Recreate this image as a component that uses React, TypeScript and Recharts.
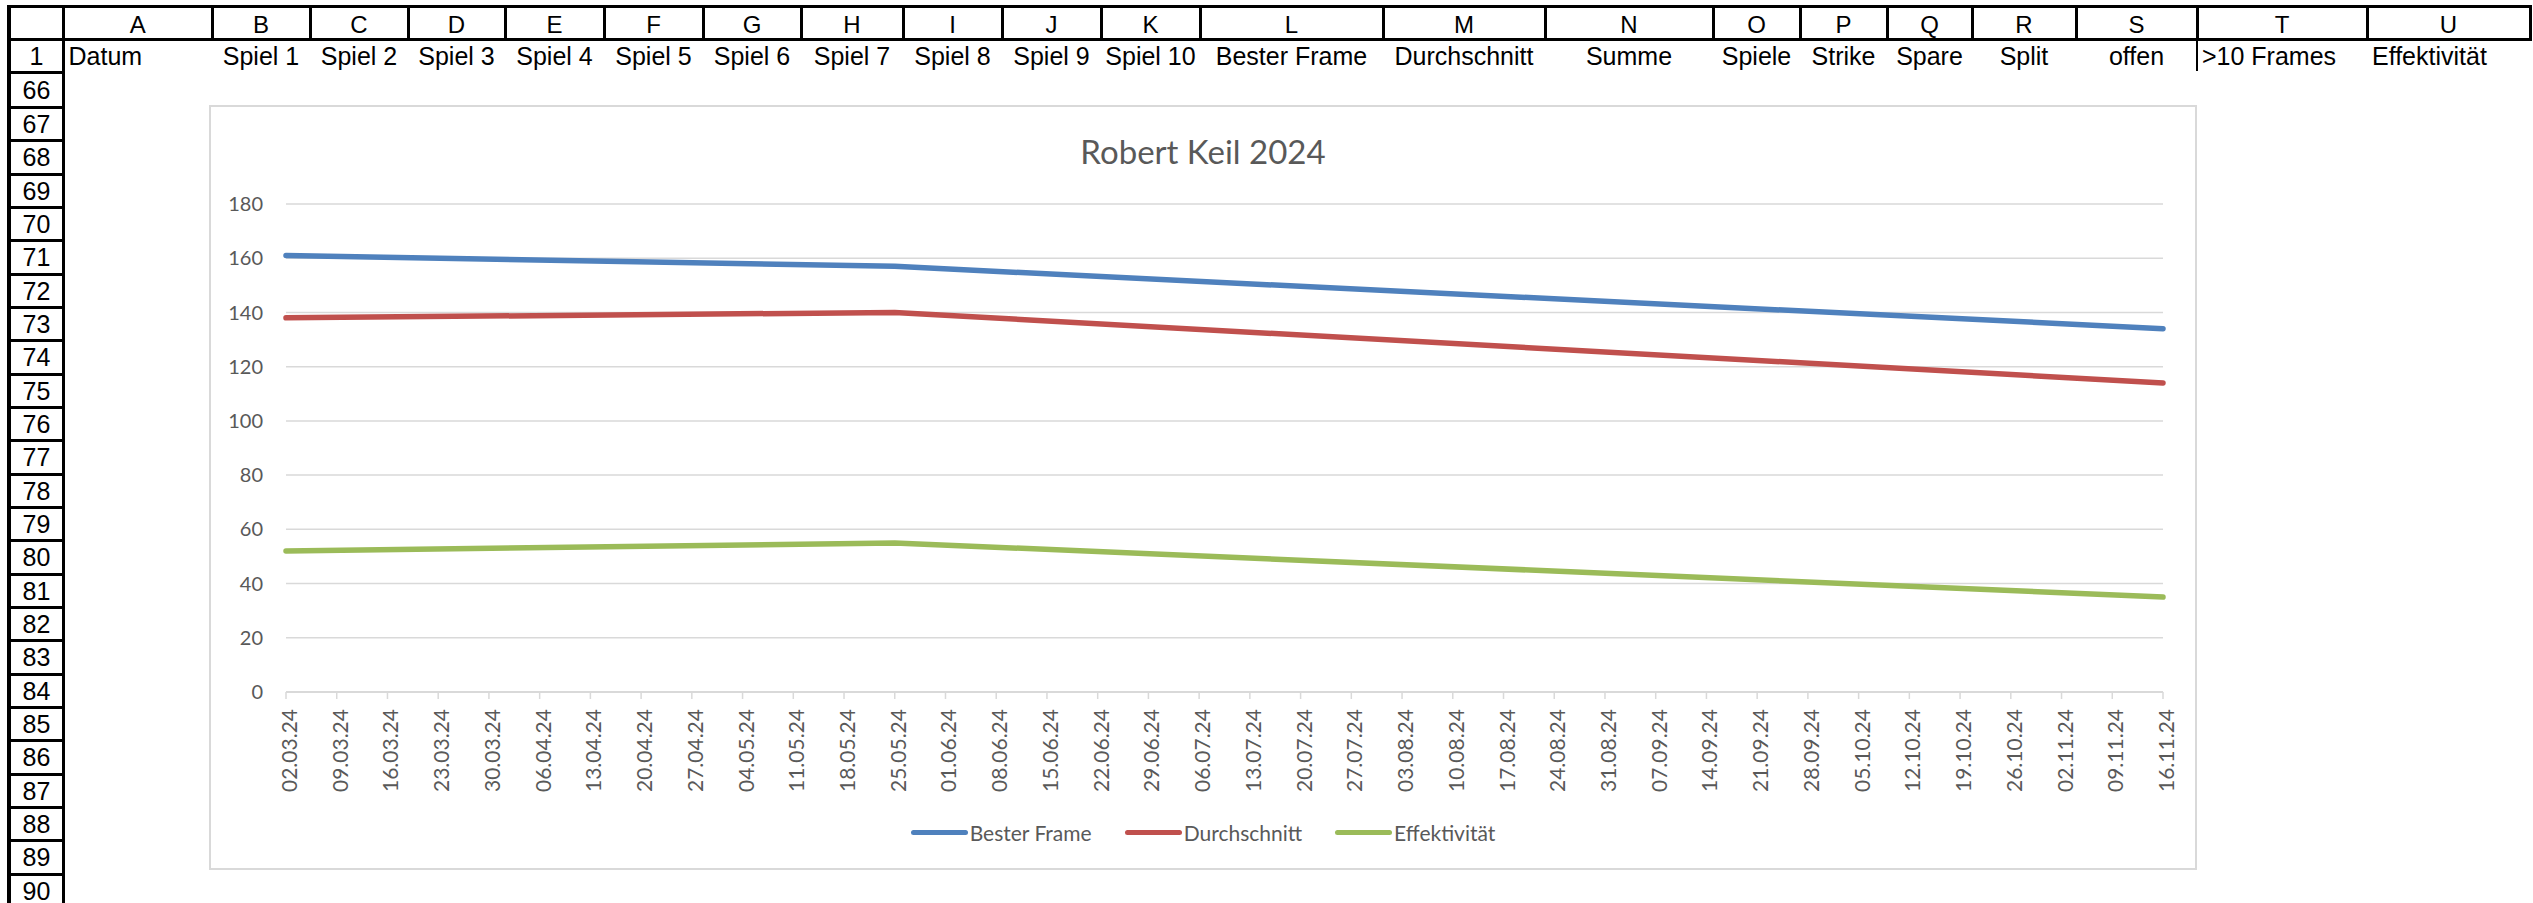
import React from 'react';
import { CartesianGrid, Line, LineChart, XAxis, YAxis } from 'recharts';

// Excel sheet header row (row 1) and column letters
const COLUMN_LETTERS = ['A', 'B', 'C', 'D', 'E', 'F', 'G', 'H', 'I', 'J', 'K', 'L', 'M', 'N', 'O', 'P', 'Q', 'R', 'S', 'T', 'U'];
const HEADER_TEXTS = [
  'Datum', 'Spiel 1', 'Spiel 2', 'Spiel 3', 'Spiel 4', 'Spiel 5', 'Spiel 6', 'Spiel 7', 'Spiel 8', 'Spiel 9', 'Spiel 10',
  'Bester Frame', 'Durchschnitt', 'Summe', 'Spiele', 'Strike', 'Spare', 'Split', 'offen', '>10 Frames', 'Effektivität',
];
const ROW_NUMBERS = ['1', '66', '67', '68', '69', '70', '71', '72', '73', '74', '75', '76', '77', '78', '79', '80', '81', '82', '83', '84', '85', '86', '87', '88', '89', '90'];

// chart data
const DATES = [
  '02.03.24', '09.03.24', '16.03.24', '23.03.24', '30.03.24', '06.04.24', '13.04.24', '20.04.24', '27.04.24', '04.05.24',
  '11.05.24', '18.05.24', '25.05.24', '01.06.24', '08.06.24', '15.06.24', '22.06.24', '29.06.24', '06.07.24', '13.07.24',
  '20.07.24', '27.07.24', '03.08.24', '10.08.24', '17.08.24', '24.08.24', '31.08.24', '07.09.24', '14.09.24', '21.09.24',
  '28.09.24', '05.10.24', '12.10.24', '19.10.24', '26.10.24', '02.11.24', '09.11.24', '16.11.24',
];

// only three filled rows per series, the gaps are bridged like in Excel
const BESTER_FRAME = [
  161, null, null, null, null, null, null, null, null, null, null, null,
  157, null, null, null, null, null, null, null, null, null, null, null, null,
  null, null, null, null, null, null, null, null, null, null, null, null,
  134,
];
const DURCHSCHNITT = [
  138, null, null, null, null, null, null, null, null, null, null, null,
  140, null, null, null, null, null, null, null, null, null, null, null, null,
  null, null, null, null, null, null, null, null, null, null, null, null,
  114,
];
const EFFEKTIVITAET = [
  52, null, null, null, null, null, null, null, null, null, null, null,
  55, null, null, null, null, null, null, null, null, null, null, null, null,
  null, null, null, null, null, null, null, null, null, null, null, null,
  35,
];
const Y_TICKS = [0, 20, 40, 60, 80, 100, 120, 140, 160, 180];

const SERIES = [
  { key: 'bester', name: 'Bester Frame', color: '#4F81BD' },
  { key: 'schnitt', name: 'Durchschnitt', color: '#C0504D' },
  { key: 'eff', name: 'Effektivität', color: '#9BBB59' },
];

const data = DATES.map((date, i) => ({
  date,
  bester: BESTER_FRAME[i],
  schnitt: DURCHSCHNITT[i],
  eff: EFFEKTIVITAET[i],
}));

// sheet geometry
const COL_EDGES = [63.5, 212, 310, 408, 505, 604, 703, 801, 903, 1002, 1101, 1200, 1383, 1545, 1713, 1800, 1887, 1972, 2076, 2197, 2367, 2530];
const LEFT_ALIGNED = ['A', 'T', 'U'];
const rowLineY = (i: number) => (i === 0 ? 71 : 106 + (i - 1) * 33.333);

const CHART = { left: 209, top: 105, width: 1988, height: 765 };
const GREY = '#595959';
const FONT = 'Lato, "Open Sans", sans-serif';
const SHEET_FONT = '"Liberation Sans", Arial, sans-serif';

const DateTick = ({ x, y, payload }: any) => (
  <text
    x={x}
    y={y}
    dy={11}
    transform={`rotate(-90, ${x}, ${y})`}
    textAnchor="end"
    fill={GREY}
    fontSize={21}
    fontFamily={FONT}
  >
    {payload.value}
  </text>
);

const Sheet = () => {
  const lines: React.ReactNode[] = [];
  const black = '#000';
  // top border and column header bottom border
  lines.push(<div key="top" style={{ position: 'absolute', left: 7, top: 5, width: 2525, height: 3, background: black }} />);
  lines.push(<div key="hdrb" style={{ position: 'absolute', left: 7, top: 38, width: 2525, height: 3, background: black }} />);
  // row header outer left / right
  lines.push(<div key="rl" style={{ position: 'absolute', left: 7, top: 5, width: 4, height: 898, background: black }} />);
  lines.push(<div key="rr" style={{ position: 'absolute', left: 62, top: 5, width: 3, height: 898, background: black }} />);
  // column separators in header row
  COL_EDGES.slice(1).forEach((x, i) => {
    lines.push(
      <div key={`cv${i}`} style={{ position: 'absolute', left: x - 1.5, top: 5, width: 3, height: 36, background: black }} />
    );
  });
  // S|T border visible in row 1
  lines.push(<div key="st" style={{ position: 'absolute', left: 2196, top: 41, width: 2, height: 30, background: black }} />);
  // row separators in row header column
  ROW_NUMBERS.forEach((_, i) => {
    lines.push(
      <div key={`rh${i}`} style={{ position: 'absolute', left: 7, top: rowLineY(i), width: 58, height: 3, background: black }} />
    );
  });

  const texts: React.ReactNode[] = [];
  COLUMN_LETTERS.forEach((letter, i) => {
    const l = COL_EDGES[i];
    const r = COL_EDGES[i + 1];
    texts.push(
      <div key={`cl${i}`} style={{ position: 'absolute', left: l, top: 10, width: r - l, height: 30, lineHeight: '30px', textAlign: 'center', fontSize: 24 }}>
        {letter}
      </div>
    );
    const left = LEFT_ALIGNED.includes(letter);
    texts.push(
      <div
        key={`h${i}`}
        style={{
          position: 'absolute',
          left: l + (left ? 5 : 0),
          top: 41,
          width: r - l - (left ? 5 : 0),
          height: 30,
          lineHeight: '30px',
          textAlign: left ? 'left' : 'center',
          fontSize: 25,
          whiteSpace: 'nowrap',
        }}
      >
        {HEADER_TEXTS[i]}
      </div>
    );
  });
  ROW_NUMBERS.forEach((n, i) => {
    const top = i === 0 ? 41 : rowLineY(i - 1) + 3;
    const bottom = rowLineY(i);
    texts.push(
      <div key={`rn${i}`} style={{ position: 'absolute', left: 11, top, width: 51, height: bottom - top, lineHeight: `${bottom - top}px`, textAlign: 'center', fontSize: 25 }}>
        {n}
      </div>
    );
  });

  return (
    <div style={{ position: 'absolute', left: 0, top: 0, width: 2533, height: 903, fontFamily: SHEET_FONT, color: '#000', overflow: 'hidden' }}>
      {lines}
      {texts}
    </div>
  );
};

export default function App() {
  return (
    <div style={{ position: 'absolute', left: 0, top: 0, width: 2533, height: 903, background: '#fff', overflow: 'hidden' }}>
      <Sheet />
      <div
        style={{
          position: 'absolute',
          left: CHART.left,
          top: CHART.top,
          width: CHART.width,
          height: CHART.height,
          background: '#fff',
          boxSizing: 'border-box',
          border: '2px solid #D9D9D9',
        }}
      />
      <div style={{ position: 'absolute', left: CHART.left, top: CHART.top, width: CHART.width, height: CHART.height }}>
        <div
          style={{
            position: 'absolute',
            left: 0,
            top: 30,
            width: CHART.width,
            textAlign: 'center',
            fontFamily: FONT,
            fontSize: 33,
            lineHeight: '33px',
            color: GREY,
          }}
        >
          Robert Keil 2024
        </div>
        <LineChart width={CHART.width} height={CHART.height} data={data} margin={{ top: 99, right: 34, left: 0, bottom: 0 }}>
          <CartesianGrid vertical={false} stroke="#D9D9D9" strokeWidth={1.5} />
          <XAxis
            dataKey="date"
            interval={0}
            height={178}
            tick={<DateTick />}
            tickSize={7}
            tickMargin={10}
            tickLine={{ stroke: '#D9D9D9', strokeWidth: 1.5 }}
            axisLine={{ stroke: '#D9D9D9', strokeWidth: 2 }}
          />
          <YAxis
            domain={[0, 180]}
            ticks={Y_TICKS}
            width={77}
            axisLine={false}
            tickLine={false}
            tickSize={0}
            tickMargin={23}
            tick={{ fill: GREY, fontSize: 20, fontFamily: FONT }}
          />
          {SERIES.map((s) => (
            <Line
              key={s.key}
              type="linear"
              dataKey={s.key}
              name={s.name}
              stroke={s.color}
              strokeWidth={5.5}
              strokeLinecap="round"
              strokeLinejoin="round"
              dot={false}
              activeDot={false}
              connectNulls
              isAnimationActive={false}
            />
          ))}
        </LineChart>
        <div
          style={{
            position: 'absolute',
            left: 0,
            top: 712,
            width: CHART.width,
            height: 30,
            display: 'flex',
            justifyContent: 'center',
            alignItems: 'center',
            fontFamily: FONT,
            fontSize: 21,
            color: GREY,
          }}
        >
          {SERIES.map((s, i) => (
            <div key={s.key} style={{ display: 'flex', alignItems: 'center', marginLeft: i === 0 ? 0 : 33 }}>
              <div style={{ width: 57, height: 5, borderRadius: 3, background: s.color, marginRight: 2 }} />
              <span>{s.name}</span>
            </div>
          ))}
        </div>
      </div>
    </div>
  );
}
